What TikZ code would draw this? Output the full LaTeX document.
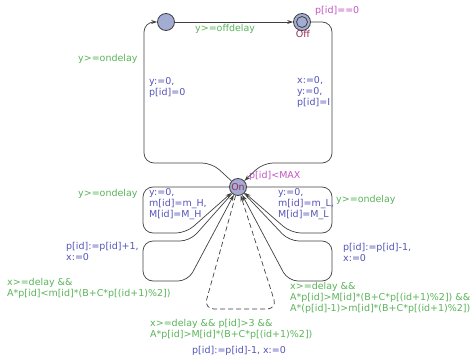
\documentclass[tikz,border=0pt]{standalone}
\usepackage{fontspec}
\setmainfont{DejaVu Sans}
\usepackage{xcolor}
\usetikzlibrary{arrows.meta}

\definecolor{guardgreen}{RGB}{90,180,90}
\definecolor{assignblue}{RGB}{85,85,185}
\definecolor{invpink}{RGB}{195,85,195}
\definecolor{locred}{RGB}{150,45,90}
\definecolor{locfill}{RGB}{163,172,210}

\begin{document}
\begin{tikzpicture}[
    x=1pt, y=-1pt,
    font=\fontsize{9.5}{11}\selectfont,
    loc/.style={circle, draw=black!75, fill=locfill, line width=0.8pt,
                minimum size=17pt, inner sep=0pt},
    edge/.style={-{Stealth[length=6pt,width=4pt]}, black!75, line width=0.7pt,
                 rounded corners=10pt},
    guard/.style={text=guardgreen, anchor=west, align=left, inner sep=0pt},
    assign/.style={text=assignblue, anchor=west, align=left, inner sep=0pt},
    inv/.style={text=invpink, anchor=west, inner sep=0pt},
  ]
    \useasboundingbox (0,0) rectangle (473,358);

    % locations
    \node[loc] (init) at (166,22) {};
    \node[loc] (Off) at (302,22) {};
    \draw[black!75, line width=0.8pt] (Off.center) circle (5.5pt);
    \node[loc, text=locred] (On) at (238,187) {On};
    \node[text=locred, inner sep=0pt] (offname) at (303,34) {Off};
    \node[inv] (offinv) at (315,11) {p[id]==0};
    \node[inv] (oninv) at (249,176) {p[id]<MAX};

    % edges
    \draw[edge] (init) -- (Off);
    \draw[edge] (Off) -- (332,22) -- (332,163) -- (263,163) -- (On);
    \draw[edge] (On) -- (212,163) -- (144,163) -- (144,22) -- (init);
    \draw[edge] (On) -- (143,187) -- (143,233) -- (186,233) -- (On);
    \draw[edge] (On) -- (190,241) -- (143,241) -- (143,281) -- (188,281) -- (On);
    \draw[edge] (On) -- (332,187) -- (332,233) -- (291,233) -- (On);
    \draw[edge] (On) -- (289,241) -- (332,241) -- (332,281) -- (288,281) -- (On);
    \draw[edge, dash pattern=on 5pt off 3pt] (On) -- (204,309) -- (277,309) -- (On);

    % labels
    \node[guard] (g1) at (195,29) {y>=offdelay};
    \node[guard] (g2) at (78,59) {y>=ondelay};
    \node[assign] (a2) at (149,87) {y:=0,\\p[id]=0};
    \node[assign] (a1) at (297,92) {x:=0,\\y:=0,\\p[id]=I};
    \node[guard] (g3) at (78,194) {y>=ondelay};
    \node[assign] (a3) at (149,204) {y:=0,\\m[id]=m\_H,\\M[id]=M\_H};
    \node[assign] (a4) at (66,251) {p[id]:=p[id]+1,\\x:=0};
    \node[guard] (g4) at (7,288) {x>=delay \&\&\\A*p[id]<m[id]*(B+C*p[(id+1)\%2])};
    \node[assign] (a5) at (278,204) {y:=0,\\m[id]=m\_L,\\M[id]=M\_L};
    \node[guard] (g5) at (336,200) {y>=ondelay};
    \node[assign] (a6) at (343,252) {p[id]:=p[id]-1,\\x:=0};
    \node[guard] (g6) at (290,298) {x>=delay \&\&\\A*p[id]>M[id]*(B+C*p[(id+1)\%2]) \&\&\\A*(p[id]-1)>m[id]*(B+C*p[(id+1)\%2])};
    \node[guard] (g7) at (150,329) {x>=delay \&\& p[id]>3 \&\&\\A*p[id]>M[id]*(B+C*p[(id+1)\%2])};
    \node[assign] (a7) at (192,351) {p[id]:=p[id]-1, x:=0};
  \end{tikzpicture}
\end{document}
